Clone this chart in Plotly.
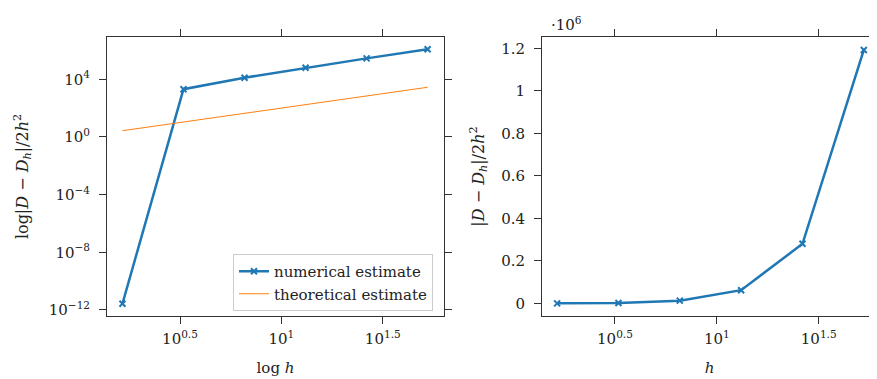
import plotly.graph_objects as go

# ---- data ----
h_values = [1.645, 3.29, 6.58, 13.16, 26.32, 52.64]
numerical_estimate = [2.7e-12, 2040, 12800, 62000, 280000, 1192000]
theoretical_estimate = [2.7, 10.8, 43.3, 173.2, 692.8, 2771]

x_tick_vals = [3.16228, 10, 31.6228]
x_tick_text = ["10<sup>0.5</sup>", "10<sup>1</sup>", "10<sup>1.5</sup>"]
ylog_tick_vals = [1e4, 1, 1e-4, 1e-8, 1e-12]
ylog_tick_text = ["10<sup>4</sup>", "10<sup>0</sup>", "10<sup>−4</sup>", "10<sup>−8</sup>", "10<sup>−12</sup>"]
ylin_tick_vals = [0, 0.2e6, 0.4e6, 0.6e6, 0.8e6, 1.0e6, 1.2e6]
ylin_tick_text = ["0", "0.2", "0.4", "0.6", "0.8", "1", "1.2"]

BLUE = "#1f77b4"
ORANGE = "#ff7f0e"
FONT = "DejaVu Serif"
FS = 15
OFF = 8  # page body margin
W, H = 877 - OFF, 379 - OFF


def px(v):
    return (v - OFF) / W


def py(v):
    return 1 - (v - OFF) / H


fig = go.Figure()
fig.add_trace(go.Scatter(x=h_values, y=numerical_estimate, mode="lines+markers",
                         name="numerical estimate", line=dict(color=BLUE, width=2.5),
                         marker=dict(symbol="x-thin", size=6, color=BLUE,
                                     line=dict(color=BLUE, width=2)),
                         xaxis="x", yaxis="y"))
fig.add_trace(go.Scatter(x=h_values, y=theoretical_estimate, mode="lines",
                         name="theoretical estimate", line=dict(color=ORANGE, width=1),
                         xaxis="x", yaxis="y"))
fig.add_trace(go.Scatter(x=h_values, y=numerical_estimate, mode="lines+markers",
                         showlegend=False, line=dict(color=BLUE, width=2.5),
                         marker=dict(symbol="x-thin", size=6, color=BLUE,
                                     line=dict(color=BLUE, width=2)),
                         cliponaxis=False, xaxis="x2", yaxis="y2"))

axis_common = dict(showline=True, mirror="ticks", linecolor="#333", linewidth=1,
                   ticks="outside", ticklen=7, tickcolor="#333", showgrid=False,
                   zeroline=False, automargin=False,
                   tickfont=dict(family=FONT, size=FS, color="#222"))
title_font = dict(family=FONT, size=FS, color="#222")
ytitle_font = dict(family=FONT, size=16, color="#222")

fig.update_layout(
    width=W, height=H, margin=dict(l=0, r=0, t=0, b=0, autoexpand=False),
    paper_bgcolor="white", plot_bgcolor="white",
    font=dict(family=FONT, size=FS, color="#222"),
    xaxis=dict(axis_common, type="log", domain=[px(107), px(444)], range=[0.14, 1.802],
               tickvals=x_tick_vals, ticktext=x_tick_text, anchor="y", ticklabelstandoff=2,
               title=dict(text="log <i>h</i>", font=title_font, standoff=15)),
    yaxis=dict(axis_common, type="log", domain=[py(316), py(37)], range=[-12.42, 6.93],
               tickvals=ylog_tick_vals, ticktext=ylog_tick_text, anchor="x", ticklabelstandoff=6,
               title=dict(text="log|<i>D</i> − <i>D</i><sub><i>h</i></sub>|/2<i>h</i><sup>2</sup>",
                          font=ytitle_font, standoff=16)),
    xaxis2=dict(axis_common, type="log", domain=[px(542), 1.0], range=[0.142, 1.786],
                tickvals=x_tick_vals, ticktext=x_tick_text, anchor="y2", ticklabelstandoff=2,
                title=dict(text="<i>h</i>", font=title_font, standoff=15)),
    yaxis2=dict(axis_common, domain=[py(316), py(37)], range=[-0.0595e6, 1.253e6],
                tickvals=ylin_tick_vals, ticktext=ylin_tick_text, anchor="x2", ticklabelstandoff=6,
                title=dict(text="|<i>D</i> − <i>D</i><sub><i>h</i></sub>|/2<i>h</i><sup>2</sup>",
                           font=ytitle_font, standoff=12)),
    legend=dict(x=px(433), y=py(311), xanchor="right", yanchor="bottom",
                bgcolor="white", bordercolor="#ccc", borderwidth=1,
                font=dict(family=FONT, size=FS, color="#222"), tracegroupgap=0),
    annotations=[dict(text="·10<sup>6</sup>", x=px(549), y=py(24), xref="paper", yref="paper",
                      xanchor="left", yanchor="middle", showarrow=False,
                      font=dict(family=FONT, size=FS, color="#222"))],
)

fig.write_html("out.html")
